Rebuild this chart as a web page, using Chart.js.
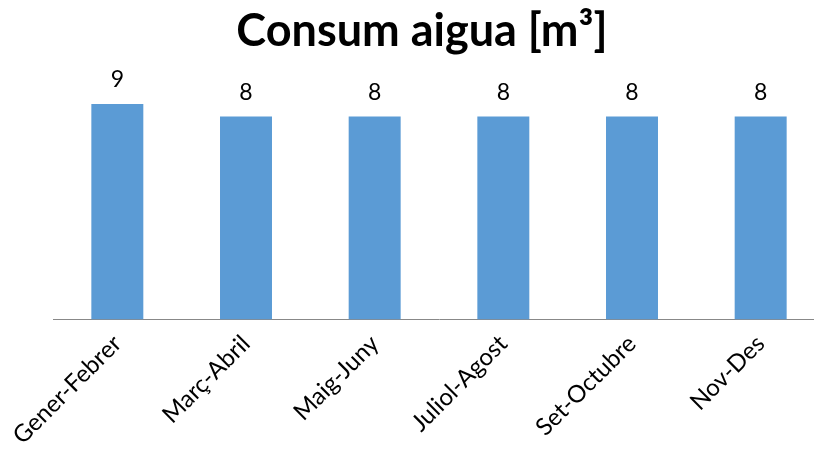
<!DOCTYPE html>
<html>
<head>
<meta charset="utf-8">
<script src="https://cdn.jsdelivr.net/npm/chart.js@4.4.1/dist/chart.umd.min.js"></script>
<style>
  html, body { margin: 0; padding: 0; overflow: hidden; background: #fff; }
  #wrap { width: 844px; height: 480px; }
</style>
</head>
<body>
<div id="wrap"><canvas id="myChart" width="844" height="480"></canvas></div>
<script>
// categories and values (labels above bars are rounded)
const titleText = "Consum aigua [m³]";
const periods = ["Gener-Febrer", "Març-Abril", "Maig-Juny", "Juliol-Agost", "Set-Octubre", "Nov-Des"];
const consum = [8.6, 8.1, 8.1, 8.1, 8.1, 8.1];

// draw value labels above each bar
const valueLabels = {
  id: 'valueLabels',
  afterDatasetsDraw(chart) {
    const ctx = chart.ctx;
    const meta = chart.getDatasetMeta(0);
    ctx.save();
    ctx.font = '23px Lato';
    ctx.fillStyle = '#000';
    ctx.textAlign = 'center';
    ctx.textBaseline = 'alphabetic';
    meta.data.forEach((bar, i) => {
      ctx.fillText(Math.round(consum[i]), bar.x, bar.y - 17);
    });
    ctx.restore();
  }
};

// title centred on the picture, not on the plot area
const pageTitle = {
  id: 'pageTitle',
  afterDraw(chart) {
    const ctx = chart.ctx;
    ctx.save();
    ctx.font = 'bold 45px Lato';
    ctx.fillStyle = '#000';
    ctx.textAlign = 'center';
    ctx.textBaseline = 'middle';
    ctx.fillText(titleText, 422, 31);
    ctx.restore();
  }
};

let myChart = document.getElementById('myChart').getContext("2d");
let chart = new Chart(myChart, {
  type: "bar",
  data: {
    labels: periods,
    datasets: [{
      label: "Consum",
      data: consum,
      backgroundColor: "#5B9BD5",
      barPercentage: 1,
      categoryPercentage: 0.404,
    }],
  },
  options: {
    responsive: false,
    animation: false,
    layout: { padding: { left: 53, right: 19, top: 69, bottom: 20 } },
    plugins: {
      legend: { display: false },
      tooltip: { enabled: false },
      title: { display: false },
    },
    scales: {
      x: {
        grid: { display: false, drawTicks: false },
        border: { display: true, color: "#888888", width: 1 },
        ticks: {
          color: "#000",
          font: { family: "Lato", size: 24 },
          minRotation: 45,
          maxRotation: 45,
          padding: 10,
        },
      },
      y: {
        display: false,
        min: 0,
        max: 10,
      },
    },
  },
  plugins: [valueLabels, pageTitle]
});
</script>
</body>
</html>
